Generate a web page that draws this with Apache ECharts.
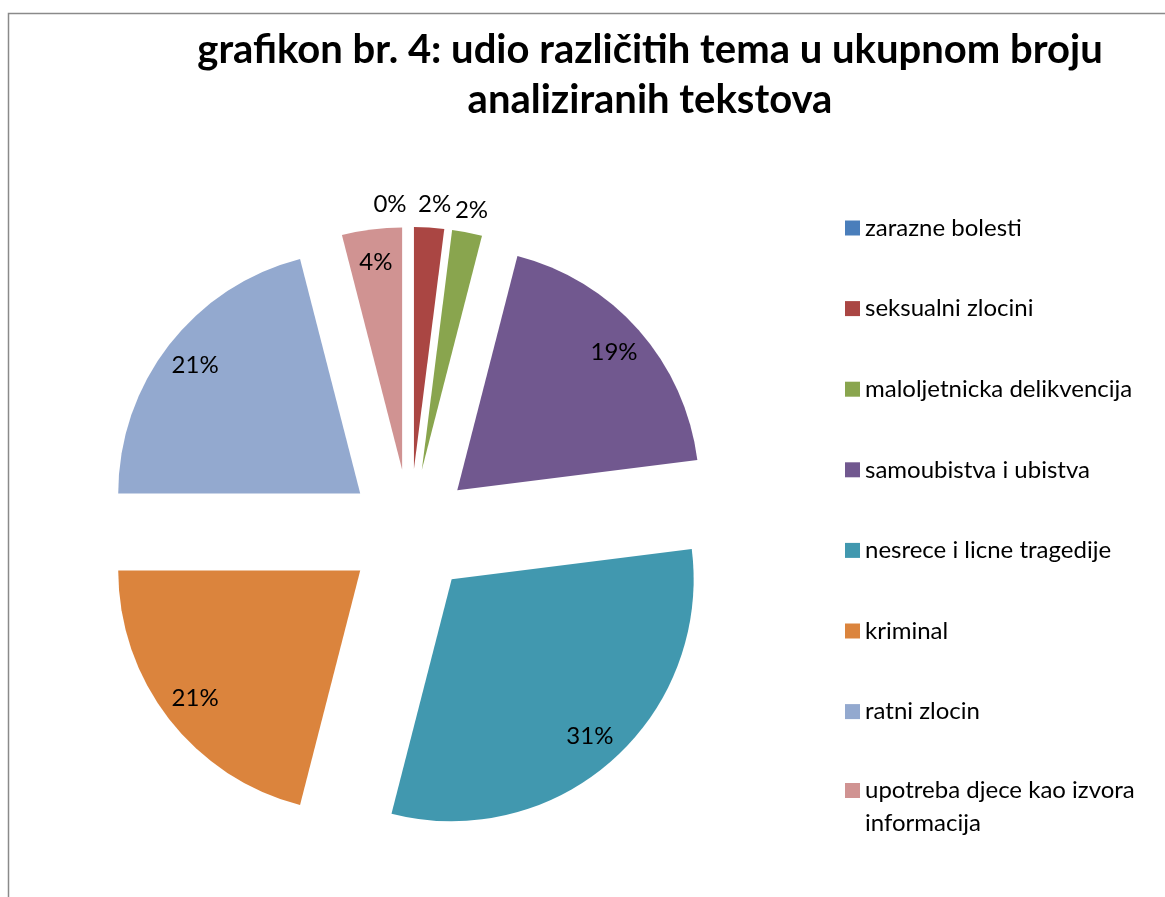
<!DOCTYPE html>
<html><head><meta charset="utf-8">
<script src="https://cdn.jsdelivr.net/npm/echarts@6/dist/echarts.min.js"></script>
<style>html,body{margin:0;padding:0;background:#fff}#chart{width:1165px;height:897px}</style>
</head><body><div id="chart"></div>
<script>
const categories = ['zarazne bolesti','seksualni zlocini','maloljetnicka delikvencija','samoubistva i ubistva','nesrece i licne tragedije','kriminal','ratni zlocin','upotreba djece kao izvora informacija'];
const values = [0, 2, 2, 19, 31, 21, 21, 4];
const colors = ['#4A7EBB','#AA4643','#89A54E','#71588F','#4198AF','#DB843D','#93A9CF','#D09392'];
const titleText = 'grafikon br. 4: udio različitih tema u ukupnom broju\nanaliziranih tekstova';

const FONT = 'Lato';
const CENTER = [410, 532];
const R = 242;
const OFFSET = 63;
const LABEL_SIZE = 24;
const smallLimit = 3; // slices below this share get their label outside

function mainData() {
  return categories.map((n, i) => ({ name: n, value: values[i], selected: true, itemStyle: { color: colors[i] } }));
}
function helperData(outside) {
  return categories.map((n, i) => {
    const isSmall = values[i] < smallLimit;
    const show = outside ? isSmall : !isSmall;
    return { name: n, value: values[i], selected: true, label: { show: show } };
  });
}
const helperCommon = {
  type: 'pie', center: CENTER, startAngle: 90, clockwise: true,
  selectedMode: 'multiple', selectedOffset: OFFSET, silent: true,
  avoidLabelOverlap: false,
  itemStyle: { color: 'rgba(0,0,0,0)', borderWidth: 0 },
  label: { position: 'inside', formatter: '{d}%', color: '#000', fontFamily: FONT, fontSize: LABEL_SIZE },
  labelLine: { show: false },
  emphasis: { disabled: true }
};
const lastName = categories[categories.length - 1];

const chart = echarts.init(document.getElementById('chart'), null, { renderer: 'canvas' });
chart.setOption({
  animation: false,
  backgroundColor: '#fff',
  title: {
    text: titleText, left: 650, top: 25, padding: 0, textAlign: 'center',
    textStyle: { fontFamily: FONT, fontWeight: 'bold', fontSize: 40, lineHeight: 50, color: '#000' }
  },
  legend: [{
    orient: 'vertical', left: 845, top: 216, padding: 0, itemGap: 56.6,
    itemWidth: 15, itemHeight: 15, icon: 'rect',
    data: categories.slice(0, 7),
    itemStyle: { borderWidth: 0 },
    textStyle: { fontFamily: FONT, fontSize: LABEL_SIZE, lineHeight: 24, color: '#000' }
  }, {
    orient: 'vertical', left: 845, top: 741, padding: 0,
    itemWidth: 15, itemHeight: 15, icon: 'rect',
    data: [lastName],
    itemStyle: { borderWidth: 0 },
    formatter: function (name) { return ' \n' + name.replace(' informacija', '\ninformacija'); },
    textStyle: { fontFamily: FONT, fontSize: LABEL_SIZE, lineHeight: 33, color: '#000' }
  }],
  graphic: [{
    type: 'rect', silent: true,
    shape: { x: 8.5, y: 13.5, width: 1400, height: 1200 },
    style: { fill: 'none', stroke: '#8a8a8a', lineWidth: 1.5 }
  }],
  series: [
    {
      type: 'pie', center: CENTER, radius: [0, R], startAngle: 90, clockwise: true,
      selectedMode: 'multiple', selectedOffset: OFFSET,
      itemStyle: { borderWidth: 0 },
      label: { show: false }, labelLine: { show: false },
      emphasis: { disabled: true },
      data: mainData()
    },
    Object.assign({}, helperCommon, { radius: [170, R], data: helperData(false) }),
    Object.assign({}, helperCommon, {
      radius: [R, R + 40], data: helperData(true),
      labelLayout: function (p) {
        if (p.dataIndex === 0) return { dx: -20, hideOverlap: false };
        if (p.dataIndex === 1) return { dx: 4, hideOverlap: false };
        return { hideOverlap: false };
      }
    })
  ]
});
</script></body></html>
